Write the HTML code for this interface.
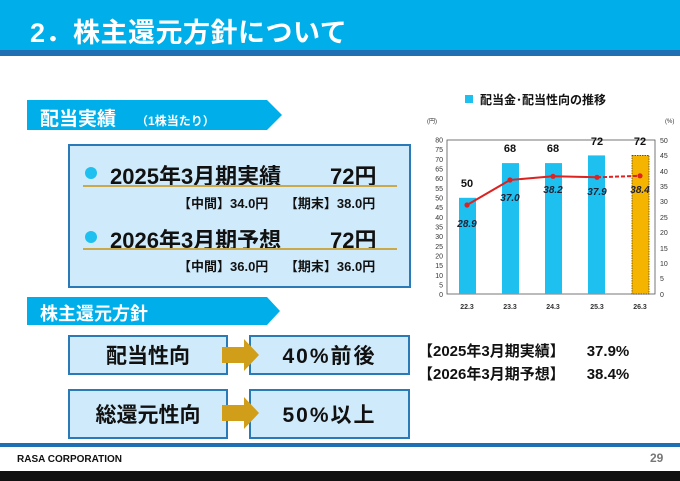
<!DOCTYPE html>
<html><head><meta charset="utf-8"><style>
body{margin:0;width:680px;height:481px;background:#fff;position:relative;overflow:hidden;font-family:"Liberation Sans","Noto Sans CJK JP",sans-serif;}
.a{position:absolute;white-space:nowrap;}
.b{font-weight:bold;}
.box{position:absolute;background:#cfeafb;border:2px solid #2a7ab8;box-sizing:border-box;}
.cell{position:absolute;background:#cfeafb;border:2px solid #2a7ab8;box-sizing:border-box;display:flex;align-items:center;justify-content:center;font-weight:bold;font-size:21px;color:#111;}
</style></head><body>
<div class="a" style="left:0;top:0;width:680px;height:50px;background:#00aeea"></div>
<div class="a" style="left:0;top:50px;width:680px;height:6px;background:#1f6fb5"></div>
<div class="a b" style="left:30px;top:11px;font-size:27px;color:#fff;letter-spacing:0.5px">2．株主還元方針について</div>

<svg class="a" style="left:27px;top:100px" width="260" height="32"><polygon points="0,0 240,0 255,15 240,30 0,30" fill="#00aeea"/></svg>
<div class="a b" style="left:40px;top:104px;font-size:19px;color:#fff">配当実績<span style="font-size:12px;margin-left:20px">（1株当たり）</span></div>

<div class="box" style="left:68px;top:144px;width:343px;height:144px"></div>
<div class="a" style="left:85px;top:167px;width:12px;height:12px;border-radius:50%;background:#1ec0f0"></div>
<div class="a b" style="left:110px;top:159px;font-size:22px;color:#111">2025年3月期実績</div>
<div class="a b" style="left:330px;top:159px;font-size:22px;color:#111">72円</div>
<div class="a" style="left:83px;top:185px;width:314px;height:2px;background:#c9a94a"></div>
<div class="a b" style="left:178px;top:193px;font-size:13px;color:#111">【中間】34.0円　 【期末】38.0円</div>
<div class="a" style="left:85px;top:231px;width:12px;height:12px;border-radius:50%;background:#1ec0f0"></div>
<div class="a b" style="left:110px;top:223px;font-size:22px;color:#111">2026年3月期予想</div>
<div class="a b" style="left:330px;top:223px;font-size:22px;color:#111">72円</div>
<div class="a" style="left:83px;top:248px;width:314px;height:2px;background:#c9a94a"></div>
<div class="a b" style="left:178px;top:256px;font-size:13px;color:#111">【中間】36.0円　 【期末】36.0円</div>

<svg class="a" style="left:27px;top:297px" width="260" height="30"><polygon points="0,0 240,0 253,14 240,28 0,28" fill="#00aeea"/></svg>
<div class="a b" style="left:40px;top:300px;font-size:18px;color:#fff">株主還元方針</div>

<div class="cell" style="left:68px;top:335px;width:160px;height:40px">配当性向</div>
<div class="cell" style="left:249px;top:335px;width:161px;height:40px;letter-spacing:2px">40%前後</div>
<div class="cell" style="left:68px;top:389px;width:160px;height:50px">総還元性向</div>
<div class="cell" style="left:249px;top:389px;width:161px;height:50px;letter-spacing:2px">50%以上</div>
<svg class="a" style="left:222px;top:339px" width="38" height="32"><polygon points="0,8 22,8 22,0 37,16 22,32 22,24 0,24" fill="#d19e1a"/></svg>
<svg class="a" style="left:222px;top:397px" width="38" height="32"><polygon points="0,8 22,8 22,0 37,16 22,32 22,24 0,24" fill="#d19e1a"/></svg>

<div class="a b" style="left:418px;top:340px;font-size:15px;color:#111">【2025年3月期実績】<span style="margin-left:22px">37.9%</span></div>
<div class="a b" style="left:418px;top:363px;font-size:15px;color:#111">【2026年3月期予想】<span style="margin-left:22px">38.4%</span></div>

<svg class="a" style="left:410px;top:85px" width="270" height="235" font-family="Liberation Sans, Noto Sans CJK JP, sans-serif">
<rect x="55" y="10" width="8" height="8" fill="#1ec0f0"/>
<text x="70" y="19" font-size="12" font-weight="bold" fill="#111">配当金･配当性向の推移</text>
<text x="17" y="38" font-size="6" fill="#333">(円)</text>
<text x="255" y="38" font-size="6" fill="#333">(%)</text>
<g font-size="7" fill="#333" text-anchor="end">
<text x="33" y="57.5">80</text><text x="33" y="67">75</text><text x="33" y="77">70</text><text x="33" y="86.5">65</text><text x="33" y="96">60</text><text x="33" y="106">55</text><text x="33" y="115.5">50</text><text x="33" y="125">45</text><text x="33" y="135">40</text><text x="33" y="144.5">35</text><text x="33" y="154">30</text><text x="33" y="164">25</text><text x="33" y="173.5">20</text><text x="33" y="183">15</text><text x="33" y="193">10</text><text x="33" y="202.5">5</text><text x="33" y="212">0</text>
</g>
<g font-size="7" fill="#333">
<text x="250" y="58">50</text><text x="250" y="73">45</text><text x="250" y="89">40</text><text x="250" y="104">35</text><text x="250" y="119">30</text><text x="250" y="135">25</text><text x="250" y="150">20</text><text x="250" y="166">15</text><text x="250" y="181">10</text><text x="250" y="196">5</text><text x="250" y="212">0</text>
</g>
<rect x="37" y="55" width="208" height="154" fill="none" stroke="#555" stroke-width="0.8"/>
<rect x="49" y="112.8" width="17" height="96.2" fill="#1ec0f0"/>
<rect x="92" y="78.1" width="17" height="130.9" fill="#1ec0f0"/>
<rect x="135" y="78.1" width="17" height="130.9" fill="#1ec0f0"/>
<rect x="178" y="70.4" width="17" height="138.6" fill="#1ec0f0"/>
<rect x="222" y="70.4" width="17" height="138.6" fill="#f5b400" stroke="#333" stroke-width="0.7" stroke-dasharray="1.5,1"/>
<g font-size="11" font-weight="bold" fill="#111" text-anchor="middle">
<text x="57" y="102">50</text><text x="100" y="67">68</text><text x="143" y="67">68</text><text x="187" y="60">72</text><text x="230" y="60">72</text>
</g>
<polyline points="57,120 100,95 143,91.3 187,92.3" fill="none" stroke="#d22" stroke-width="2"/>
<line x1="187" y1="92.3" x2="230" y2="90.8" stroke="#d22" stroke-width="2" stroke-dasharray="4,2"/>
<g fill="#d22"><circle cx="57" cy="120" r="2.6"/><circle cx="100" cy="95" r="2.6"/><circle cx="143" cy="91.3" r="2.6"/><circle cx="187" cy="92.3" r="2.6"/><circle cx="230" cy="90.8" r="2.6"/></g>
<g font-size="10" font-weight="bold" font-style="italic" fill="#223" text-anchor="middle">
<text x="57" y="142">28.9</text><text x="100" y="116">37.0</text><text x="143" y="108">38.2</text><text x="187" y="110">37.9</text><text x="230" y="108">38.4</text>
</g>
<g font-size="7" font-weight="bold" fill="#333" text-anchor="middle">
<text x="57" y="224">22.3</text><text x="100" y="224">23.3</text><text x="143" y="224">24.3</text><text x="187" y="224">25.3</text><text x="230" y="224">26.3</text>
</g>
</svg>

<div class="a" style="left:0;top:443px;width:680px;height:4px;background:#1f6fb5"></div>
<div class="a b" style="left:17px;top:454px;font-size:10px;color:#111">RASA CORPORATION</div>
<div class="a b" style="left:650px;top:451px;font-size:12px;color:#777">29</div>
<div class="a" style="left:0;top:471px;width:680px;height:10px;background:#111"></div>
</body></html>
